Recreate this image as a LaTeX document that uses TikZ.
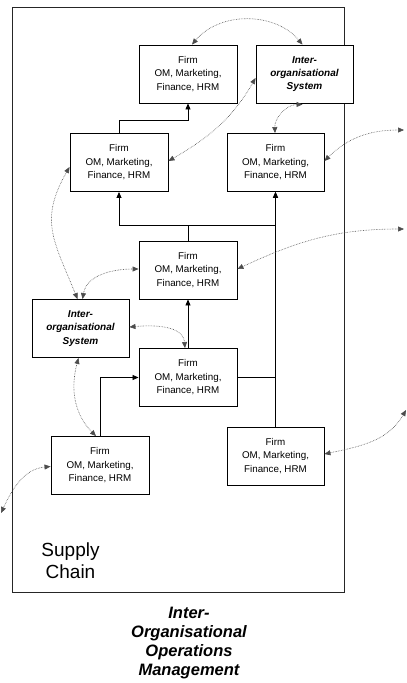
\documentclass[tikz,border=0pt]{standalone}
\usepackage{fontspec}
\setmainfont{Liberation Sans}
\usetikzlibrary{arrows.meta,calc}

\tikzset{
  x=1pt, y=1pt,
  firmbox/.style={draw=black, line width=0.9pt, fill=white, minimum width=98pt,
    minimum height=58pt, inner sep=0pt, align=center,
    font=\fontsize{9.8}{13.5}\selectfont},
  iosbox/.style={firmbox, font=\fontsize{10}{13.3}\selectfont\bfseries\itshape},
  flow/.style={line width=0.8pt, black, -{Triangle[length=6pt,width=5pt]}},
  link/.style={densely dotted, line width=0.6pt, black!70,
    {Triangle[length=6pt,width=5pt]}-{Triangle[length=6pt,width=5pt]}},
  frame/.style={draw=black!85, line width=0.9pt}
}

\begin{document}
\begin{tikzpicture}
\useasboundingbox (0,0) rectangle (407,-683);

% supply chain boundary
\draw[frame] (12,-7) rectangle (344,-592);

% firms and inter-organisational systems
\node[firmbox] (A) at (188,-74) {Firm\\OM, Marketing,\\Finance, HRM};
\node[iosbox, minimum width=97pt] (S1) at (304.5,-74) {Inter-\\organisational\\System};
\node[firmbox] (B) at (119,-162.5) {Firm\\OM, Marketing,\\Finance, HRM};
\node[firmbox, minimum width=97pt] (C) at (275.5,-162.5) {Firm\\OM, Marketing,\\Finance, HRM};
\node[firmbox] (D) at (188,-270) {Firm\\OM, Marketing,\\Finance, HRM};
\node[iosbox, minimum width=97pt] (S2) at (80.5,-328.5) {Inter-\\organisational\\System};
\node[firmbox] (E) at (188,-377.5) {Firm\\OM, Marketing,\\Finance, HRM};
\node[firmbox] (F) at (100,-465.5) {Firm\\OM, Marketing,\\Finance, HRM};
\node[firmbox, minimum width=97pt] (G) at (275.5,-456) {Firm\\OM, Marketing,\\Finance, HRM};

% labels
\node[font=\fontsize{19}{22}\selectfont, align=center] (sc) at (70.5,-561) {Supply\\Chain};
\node[font=\fontsize{16.5}{19}\selectfont\bfseries\itshape, align=center] (ioom) at (189,-643)
  {Inter-\\Organisational\\Operations\\Management};

% material / product flows
\draw[flow] (B.north) -- ++(0,13) -| (A.south);
\draw[line width=0.8pt] (D.north) -- ++(0,15) coordinate (hub);
\draw[flow] (hub) -| (B.south);
\draw[flow] (hub) -| (C.south);
\draw[flow] (G.north) -- (C.south);
\draw[line width=0.8pt] (E.east) -- (E.east -| G.north);
\draw[flow] (E.north) -- (D.south);
\draw[flow] (F.north) |- (E.west);

% outside end points
\coordinate (o1) at (404,-130);
\coordinate (o2) at (404,-229);
\coordinate (o3) at (406,-410);
\coordinate (o4) at (1,-513);

% information links
\draw[link] ([xshift=4pt]A.north) to[out=50, in=130] ([xshift=-2pt]S1.north);
\draw[link] ([yshift=1.5pt]B.east) to[out=30, in=240] ([yshift=-4pt]S1.west);
\draw[link] ([xshift=-0.5pt]C.north) to[out=92, in=180] ([xshift=-2pt, yshift=-1pt]S1.south);
\draw[link] ([yshift=1.5pt]C.east) to[out=45, in=180] (o1);
\draw[link] ([yshift=1pt]D.east) to[out=25, in=180] (o2);
\draw[link] ([yshift=2pt]G.east) to[out=12, in=240] (o3);
\draw[link] ([xshift=-3pt]S2.north) to[out=112, in=240, looseness=1.2] ([yshift=-4.5pt]B.west);
\draw[link] ([xshift=2pt]S2.north) to[out=80, in=180] ([yshift=1pt]D.west);
\draw[link] ([yshift=1.5pt]S2.east) to[out=5, in=95] ([xshift=-3pt]E.north);
\draw[link] ([xshift=-2pt]S2.south) to[out=255, in=135] ([xshift=-4pt]F.north);
\draw[link] ([yshift=-1pt]F.west) to[out=185, in=65] (o4);
\end{tikzpicture}
\end{document}
